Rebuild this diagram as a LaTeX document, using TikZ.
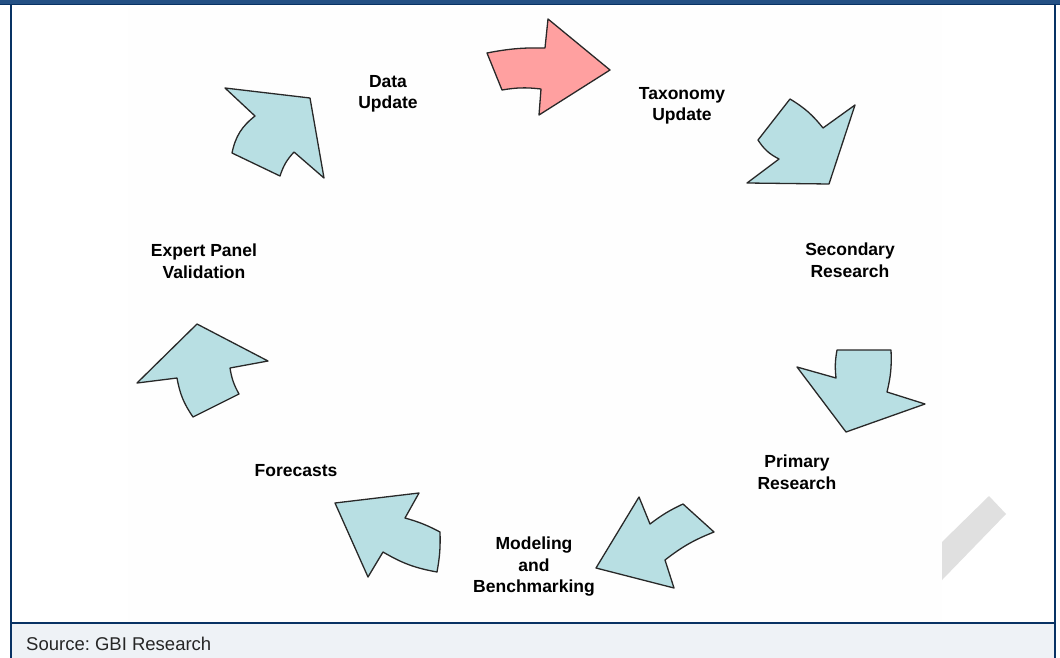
\documentclass[tikz,border=0pt]{standalone}
\usepackage{fontspec}
\setmainfont{Liberation Sans}
\usepackage{tikz}
\definecolor{framenavy}{RGB}{8,50,100}
\definecolor{bandblue}{RGB}{36,80,132}
\definecolor{footbg}{RGB}{238,242,246}
\definecolor{panelbg}{RGB}{254,254,254}
\definecolor{cyclefill}{RGB}{184,223,227}
\definecolor{startfill}{RGB}{255,160,160}
\definecolor{edgegray}{RGB}{40,40,40}
\definecolor{markgray}{RGB}{224,224,224}

\tikzset{
    cyclearrow/.style={draw=edgegray, line width=1.3pt, line join=round, fill=cyclefill},
    steplabel/.style={font=\fontsize{17.5}{21.5}\selectfont\bfseries, align=center, inner sep=0pt},
}

\begin{document}
\frenchspacing
\begin{tikzpicture}[x=1pt, y=-1pt]
    \useasboundingbox (0,0) rectangle (1060,658);
    \fill[white] (0,0) rectangle (1060,658);

    % Chart area and faint mark on the right
    \fill[panelbg] (128,5) rectangle (942,622);
    \fill[markgray] (942,542) -- (989,496) -- (1006,514) -- (942,580) -- cycle;

    % Footer
    \fill[footbg] (11,623) rectangle (1055,658);
    \node[anchor=base west, font=\fontsize{18.5}{22}\selectfont, text=black!85, inner sep=0pt] (source) at (26,650.5) {Source: GBI Research};

    % Frame
    \fill[bandblue] (0,0) rectangle (1060,4.5);
    \draw[framenavy, line width=1.2pt] (0,4.5) -- (1060,4.5);
    \draw[framenavy, line width=2pt] (11,4) -- (11,658);
    \draw[framenavy, line width=2pt] (1055,4) -- (1055,658);
    \draw[framenavy, line width=2pt] (11,623) -- (1055,623);

    % Cycle arrows
    \draw[cyclearrow] (225,88) -- (310,98) -- (324,178) -- (294,152) to[bend right=12] (280,176) -- (232,153) to[bend left=20] (255,116) -- cycle;
    \draw[cyclearrow, fill=startfill] (487,53) to[bend left=6] (545,48) -- (548,19) -- (610,70) -- (539,115) -- (541,89) to[bend right=8] (502,90) -- cycle;
    \draw[cyclearrow] (790,99) to[bend left=10] (823,128) -- (855,105) -- (829,184) -- (747,183) -- (779,159) to[bend left=15] (758,140) -- cycle;
    \draw[cyclearrow] (837,350) -- (891,350) to[bend left=8] (887,392) -- (925,404) -- (846,432) -- (797,367) -- (836,378) to[bend left=8] (837,350) -- cycle;
    \draw[cyclearrow] (639,497) -- (650,524) to[bend left=6] (683,504) -- (714,532) to[bend right=8] (665,560) -- (674,588) -- (596,568) -- cycle;
    \draw[cyclearrow] (335,503) -- (419,493) -- (405,518) to[bend left=6] (440,532) to[bend left=6] (437,572) to[bend left=10] (383,552) -- (368,577) -- cycle;
    \draw[cyclearrow] (197,324) -- (268,361) -- (230,368) to[bend right=10] (239,394) -- (193,417) to[bend left=12] (177,378) -- (137,383) -- cycle;

    % Step labels
    \foreach \nm/\xpos/\ypos/\txt in {data/388/94/{Data\\Update}, taxonomy/682/106/{Taxonomy\\Update},
        secondary/850/260/{Secondary\\Research}, primary/797/472/{Primary\\Research},
        modeling/534/567/{Modeling\\and\\Benchmarking}, forecasts/296/471/{Forecasts},
        expert/204/261/{Expert Panel\\Validation}} {
        \node[steplabel] (\nm) at (\xpos,\ypos) {\txt};
    }
\end{tikzpicture}
\end{document}
